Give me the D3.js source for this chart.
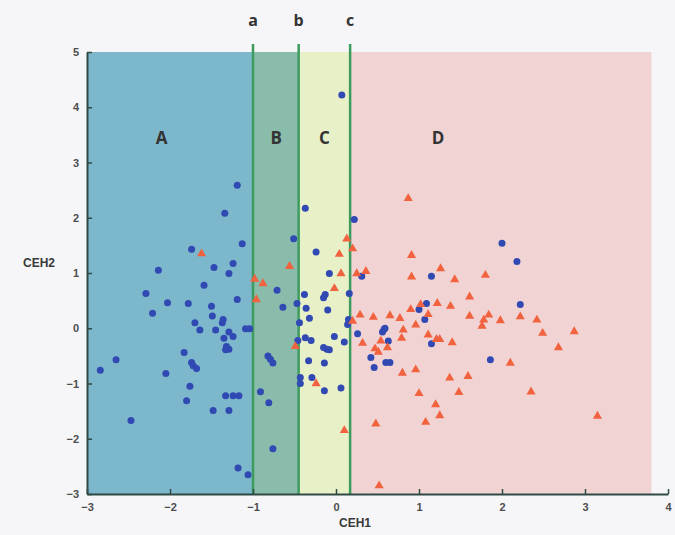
<!DOCTYPE html>
<html lang="en">
<head>
    <meta charset="UTF-8">
    <title>CEH1 vs CEH2 regions</title>
    <script src="https://d3js.org/d3.v7.min.js"></script>
    <style>
        body {
            margin: 0;
            background: #f6f6f8;
            font-family: Arial, "Liberation Sans", sans-serif;
        }
        .tick text {
            font-size: 11px;
            font-weight: bold;
            fill: #4d4d4d;
        }
        .axis-title {
            font-size: 12px;
            font-weight: bold;
            fill: #3a3a3a;
        }
        .zone-label {
            font-family: "Open Sans", "DejaVu Sans", sans-serif;
            font-size: 17px;
            font-weight: bold;
            fill: #333;
        }
    </style>
</head>
<body>
    <div id="chart"></div>

    <script>
        // zones along CEH1
        const zoneNames = ['A', 'B', 'C', 'D'];
        const zoneEdges = [-3, -1, -0.45, 0.17, 3.8];
        const zoneColors = ['#7db7cc', '#89bcab', '#e8f0c8', '#f0d3d2'];
        const zoneLabelX = [-2.1, -0.72, -0.14, 1.23];
        const zoneLabelY = 3.45;

        const cutNames = ['a', 'b', 'c'];
        const cutValues = [-1, -0.45, 0.17];

        const xTicks = [-3, -2, -1, 0, 1, 2, 3, 4];
        const yTicks = [-3, -2, -1, 0, 1, 2, 3, 4, 5];

        // group 1 (blue dots)
        const blueX = [-1.19, -1.34, -1.13, -1.74, -2.14, -1.47, -1.24, -1.29, -2.29, -2.21,
            -2.03, -1.59, -1.78, -1.50, -1.49, -1.70, -1.64, -1.45, -1.36, -1.37,
            -1.35, -1.29, -1.24, -1.32, -1.29, -1.33, -1.19, -1.09, -1.04, -2.84,
            -2.65, -2.05, -1.83, -1.74, -1.72, -1.68, -1.76, -1.80, -2.47, -1.48,
            -1.33, -1.24, -1.17, -1.29, -1.18, -1.06,
            -0.71, -0.64, -0.82, -0.79, -0.76, -0.91, -0.81, -0.76, -0.51, -0.47,
            -0.44, -0.46, -0.43, -0.43,
            -0.37, -0.24, 0.07, -0.38, -0.36, -0.32, -0.37, -0.30, -0.33, -0.29,
            -0.15, -0.13, -0.10, -0.15, -0.11, -0.08, -0.14, -0.14, -0.08, -0.02,
            0.10, 0.06, 0.16, 0.15, 0.14,
            0.22, 0.26, 0.31, 0.42, 0.46, 1.15, 2.00, 2.18, 2.22, 1.00,
            1.09, 1.07, 1.15, 0.58, 0.59, 0.56, 0.63, 0.60, 0.65, 1.86];
        const blueY = [2.59, 2.08, 1.53, 1.43, 1.05, 1.10, 1.17, 0.99, 0.63, 0.27,
            0.46, 0.78, 0.45, 0.40, 0.22, 0.10, -0.03, -0.03, 0.16, 0.10,
            -0.18, -0.07, -0.15, -0.33, -0.38, -0.39, 0.52, -0.01, -0.01, -0.76,
            -0.57, -0.82, -0.44, -0.62, -0.68, -0.73, -1.05, -1.31, -1.67, -1.49,
            -1.22, -1.22, -1.22, -1.49, -2.53, -2.65,
            0.69, 0.38, -0.50, -0.56, -0.63, -1.15, -1.35, -2.18, 1.62, 0.45,
            0.10, -0.22, -0.89, -1.00,
            2.17, 1.38, 4.22, 0.61, 0.36, 0.18, -0.17, -0.22, -0.59, -0.89,
            0.55, 0.61, 0.33, -0.35, -0.38, -0.39, -0.63, -1.13, 0.99, -0.15,
            -0.25, -1.08, 0.63, 0.16, 0.07,
            1.97, -0.10, 0.94, -0.53, -0.71, 0.94, 1.54, 1.21, 0.43, 0.34,
            0.45, 0.16, -0.28, -0.02, 0.00, -0.07, -0.23, -0.62, -0.62, -0.57];

        // group 2 (red triangles)
        const redX = [-1.62, -0.56, -0.98, -0.88, -0.96, -0.49, -0.24, -0.02, 0.06, 0.10,
            0.13, 0.20, 0.04, 0.25, 0.36, 0.20, 0.29, 0.45, 0.65, 0.77,
            0.90, 0.96, 1.02, 1.11, 1.22, 1.38, 1.61, 1.76, 1.78, 1.84,
            1.98, 2.22, 2.42, 2.49, 2.87, 2.68, 2.10, 0.81, 0.79, 1.11,
            1.21, 1.25, 1.40, 0.32, 0.54, 0.47, 0.51, 0.62, 0.80, 0.96,
            1.37, 1.59, 1.00, 1.48, 2.35, 1.20, 1.25, 1.08, 0.48, 3.15,
            0.52, 0.87, 0.91, 1.26, 0.91, 1.43, 1.80, 1.61];
        const redY = [1.35, 1.12, 0.89, 0.81, 0.52, -0.33, -1.00, 0.72, 0.99, -1.85,
            1.62, 1.44, 1.34, 0.99, 1.03, 0.13, 0.24, 0.20, 0.23, 0.18,
            0.34, 0.06, 0.43, 0.25, 0.45, 0.40, 0.22, 0.04, 0.15, 0.24,
            0.14, 0.21, 0.15, -0.09, -0.06, -0.35, -0.63, -0.03, -0.18, -0.12,
            -0.20, -0.20, -0.26, -0.27, -0.23, -0.37, -0.43, -0.35, -0.81, -0.75,
            -0.90, -0.87, -1.18, -1.16, -1.15, -1.38, -1.58, -1.70, -1.73, -1.59,
            -2.85, 2.35, 1.32, 1.08, 0.93, 0.88, 0.96, 0.57];

        const width = 675, height = 535;
        const margin = {top: 52, right: 7, bottom: 41, left: 87};

        const svg = d3.select('#chart')
            .append('svg')
            .attr('width', width)
            .attr('height', height);

        const x = d3.scaleLinear()
            .domain([-3, 4])
            .range([margin.left, width - margin.right]);
        const y = d3.scaleLinear()
            .domain([-3, 5])
            .range([height - margin.bottom, margin.top]);

        // coloured zones
        svg.selectAll('rect.zone')
            .data(zoneNames)
            .enter()
            .append('rect')
            .attr('class', 'zone')
            .attr('x', (d, i) => x(zoneEdges[i]))
            .attr('y', y(5))
            .attr('width', (d, i) => x(zoneEdges[i + 1]) - x(zoneEdges[i]))
            .attr('height', y(-3) - y(5))
            .attr('fill', (d, i) => zoneColors[i]);

        svg.selectAll('text.zone-label')
            .data(zoneNames)
            .enter()
            .append('text')
            .attr('class', 'zone-label')
            .attr('x', (d, i) => x(zoneLabelX[i]))
            .attr('y', y(zoneLabelY))
            .attr('text-anchor', 'middle')
            .attr('dy', '.35em')
            .text(d => d);

        // cut lines a, b, c
        svg.selectAll('line.cut')
            .data(cutValues)
            .enter()
            .append('line')
            .attr('class', 'cut')
            .attr('x1', d => x(d))
            .attr('x2', d => x(d))
            .attr('y1', y(-3))
            .attr('y2', y(5) - 8)
            .attr('stroke', '#3d9b5e')
            .attr('stroke-width', 2.5);

        svg.selectAll('text.cut-label')
            .data(cutNames)
            .enter()
            .append('text')
            .attr('class', 'zone-label')
            .attr('x', (d, i) => x(cutValues[i]))
            .attr('y', 26)
            .attr('text-anchor', 'middle')
            .style('font-size', '16px')
            .text(d => d);

        // points
        const blue = blueX.map((v, i) => ({x: v, y: blueY[i]}));
        const red = redX.map((v, i) => ({x: v, y: redY[i]}));

        svg.append('g')
            .selectAll('circle')
            .data(blue)
            .enter()
            .append('circle')
            .attr('cx', d => x(d.x))
            .attr('cy', d => y(d.y))
            .attr('r', 3.5)
            .attr('fill', '#3049b3');

        const tri = d3.symbol().type(d3.symbolTriangle).size(36);
        svg.append('g')
            .selectAll('path')
            .data(red)
            .enter()
            .append('path')
            .attr('d', tri)
            .attr('transform', d => `translate(${x(d.x)},${y(d.y)})`)
            .attr('fill', '#f1623f');

        // axes, ticks pointing inward
        const fmt = d3.format('d');
        const xAxis = svg.append('g')
            .attr('transform', `translate(0,${y(-3)})`)
            .call(d3.axisBottom(x).tickValues(xTicks).tickFormat(fmt)
                .tickSizeInner(-5).tickSizeOuter(0).tickPadding(9));
        const yAxis = svg.append('g')
            .attr('transform', `translate(${x(-3)},0)`)
            .call(d3.axisLeft(y).tickValues(yTicks).tickFormat(fmt)
                .tickSizeInner(-5).tickSizeOuter(0).tickPadding(8));

        [xAxis, yAxis].forEach(g => {
            g.select('.domain').attr('stroke', '#2f4a44').attr('stroke-width', 2);
            g.selectAll('.tick line').attr('stroke', '#2f4a44').attr('stroke-width', 1.5);
        });

        svg.append('text')
            .attr('class', 'axis-title')
            .attr('x', 355)
            .attr('y', 527)
            .attr('text-anchor', 'middle')
            .text('CEH1');

        svg.append('text')
            .attr('class', 'axis-title')
            .attr('x', 39)
            .attr('y', 267)
            .attr('text-anchor', 'middle')
            .text('CEH2');
    </script>
</body>
</html>
